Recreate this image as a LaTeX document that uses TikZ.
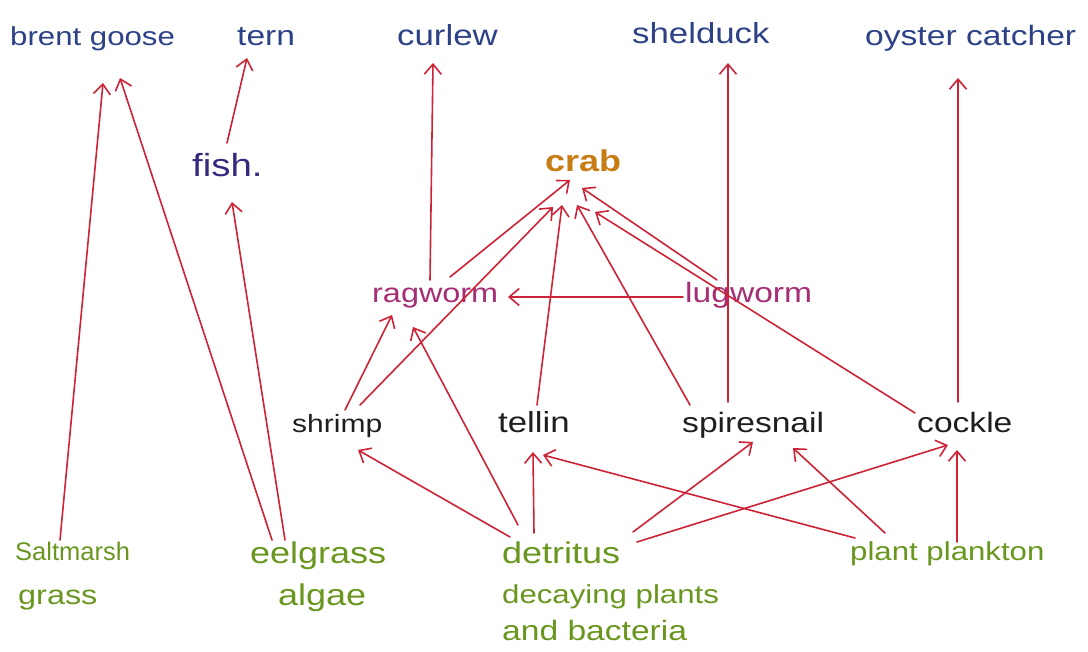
\documentclass[tikz,border=0pt]{standalone}
\usepackage{fontspec}
\newfontfamily\hand[FakeStretch=1.2]{Liberation Sans}
\newfontfamily\handn{Liberation Sans}
\usetikzlibrary{arrows.meta}
\definecolor{pred}{RGB}{45,65,135}
\definecolor{fishc}{RGB}{55,40,125}
\definecolor{crabc}{RGB}{200,125,20}
\definecolor{worm}{RGB}{165,45,115}
\definecolor{mid}{RGB}{30,30,30}
\definecolor{prod}{RGB}{105,150,30}
\definecolor{arr}{RGB}{205,35,55}
\tikzset{
  lbl/.style={inner sep=0pt, anchor=base west, font=\hand\fontsize{#1}{#1}\selectfont},
  lbl/.default=28,
  feeds/.style={draw=arr, line width=1.6pt, line cap=round,
    -{Straight Barb[length=10pt,width=17pt,line width=1.6pt]}}
}
\begin{document}
\begin{tikzpicture}[x=1pt,y=-1pt]
\useasboundingbox (0,0) rectangle (1088,652);
% predators
\node[lbl=26, text=pred] (brent) at (10,46) {brent goose};
\node[lbl, text=pred] (tern) at (237,46) {tern};
\node[lbl=29, text=pred] (curlew) at (397,46) {curlew};
\node[lbl=29, text=pred] (shelduck) at (632,44) {shelduck};
\node[lbl, text=pred] (oyster) at (865,46) {oyster catcher};
% middle
\node[lbl=32, text=fishc] (fish) at (192,177) {fish.};
\node[lbl=30, text=crabc, font=\hand\bfseries\fontsize{30}{30}\selectfont] (crab) at (545,172) {crab};
\node[lbl=27, text=worm] (rag) at (372,303) {ragworm};
\node[lbl=28, text=worm] (lug) at (685,303) {lugworm};
\node[lbl=25, text=mid] (shrimp) at (292,433) {shrimp};
\node[lbl=29, text=mid] (tellin) at (498,433) {tellin};
\node[lbl=28, text=mid] (spire) at (682,433) {spiresnail};
\node[lbl=28, text=mid] (cockle) at (917,433) {cockle};
% producers
\node[lbl=25, text=prod, font=\handn\fontsize{25.5}{25.5}\selectfont] (salt) at (15,560) {Saltmarsh};
\node[lbl=27, text=prod] (salt2) at (18,604) {grass};
\node[lbl=30, text=prod] (eel) at (250,563) {eelgrass};
\node[lbl=30, text=prod] (eel2) at (278,605) {algae};
\node[lbl=30, text=prod] (det) at (502,563) {detritus};
\node[lbl=26, text=prod] (det2) at (502,603) {decaying plants};
\node[lbl=28, text=prod] (det3) at (502,640) {and bacteria};
\node[lbl=26, text=prod] (plank) at (850,560) {plant plankton};
% connectors
\draw[feeds] ([shift={(45,-20)}]salt.base west) -- ([shift={(93,37)}]brent.base west);
\draw[feeds] ([shift={(22,-23)}]eel.base west) -- ([shift={(110,32)}]brent.base west);
\draw[feeds] ([shift={(35,-23)}]eel.base west) -- ([shift={(40,25)}]fish.base west);
\draw[feeds] ([shift={(35,-34)}]fish.base west) -- ([shift={(10,12)}]tern.base west);
\draw[feeds] ([shift={(58,-23)}]rag.base west) -- ([shift={(36,17)}]curlew.base west);
\draw[feeds] ([shift={(46,-31)}]spire.base west) -- ([shift={(96,19)}]shelduck.base west);
\draw[feeds] ([shift={(41,-31)}]cockle.base west) -- ([shift={(93,32)}]oyster.base west);
\draw[feeds] ([shift={(78,-26)}]rag.base west) -- ([shift={(25,8)}]crab.base west);
\draw[feeds] ([shift={(68,-28)}]shrimp.base west) -- ([shift={(8,35)}]crab.base west);
\draw[feeds] ([shift={(39,-28)}]tellin.base west) -- ([shift={(17,33)}]crab.base west);
\draw[feeds] ([shift={(8,-28)}]spire.base west) -- ([shift={(32,33)}]crab.base west);
\draw[feeds] ([shift={(32,-23)}]lug.base west) -- ([shift={(37,16)}]crab.base west);
\draw[feeds] ([shift={(-2,-20)}]cockle.base west) -- ([shift={(50,40)}]crab.base west);
\draw[feeds] ([shift={(-2,-6)}]lug.base west) -- ([shift={(136,-6)}]rag.base west);
\draw[feeds] ([shift={(53,-23)}]shrimp.base west) -- ([shift={(20,12)}]rag.base west);
\draw[feeds] ([shift={(16,-38)}]det.base west) -- ([shift={(41,24)}]rag.base west);
\draw[feeds] ([shift={(8,-26)}]det.base west) -- ([shift={(66,17)}]shrimp.base west);
\draw[feeds] ([shift={(32,-30)}]det.base west) -- ([shift={(35,19)}]tellin.base west);
\draw[feeds] ([shift={(131,-31)}]det.base west) -- ([shift={(71,9)}]spire.base west);
\draw[feeds] ([shift={(135,-21)}]det.base west) -- ([shift={(31,12)}]cockle.base west);
\draw[feeds] ([shift={(5,-22)}]plank.base west) -- ([shift={(45,22)}]tellin.base west);
\draw[feeds] ([shift={(35,-27)}]plank.base west) -- ([shift={(111,15)}]spire.base west);
\draw[feeds] ([shift={(107,-18)}]plank.base west) -- ([shift={(40,17)}]cockle.base west);
\end{tikzpicture}
\end{document}
